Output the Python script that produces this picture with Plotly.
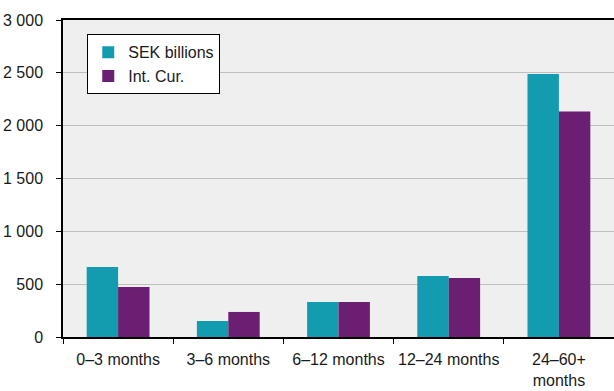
import plotly.graph_objects as go

categories = ["0–3 months", "3–6 months", "6–12 months", "12–24 months", "24–60+<br>months"]
sek_billions = [663, 151, 331, 578, 2490]
int_cur = [473, 237, 331, 559, 2134]
y_tickvals = [0, 500, 1000, 1500, 2000, 2500, 3000]
y_ticktext = ["0", "500", "1 000", "1 500", "2 000", "2 500", "3 000"]

FONT = "Liberation Sans, Arial, sans-serif"

fig = go.Figure()
fig.add_trace(go.Bar(name="SEK billions", x=categories, y=sek_billions,
                     marker=dict(color="#139BB0", line=dict(width=0))))
fig.add_trace(go.Bar(name="Int. Cur.", x=categories, y=int_cur,
                     marker=dict(color="#6B1F72", line=dict(width=0))))

fig.update_layout(
    width=614, height=391,
    margin=dict(l=63, r=0, t=20, b=54),
    paper_bgcolor="white",
    plot_bgcolor="#efefef",
    barmode="group",
    bargap=0.43,
    bargroupgap=0,
    font=dict(family=FONT, size=16, color="#1a1a1a"),
    legend=dict(
        x=0.044, y=0.955, xanchor="left", yanchor="top",
        bgcolor="white", bordercolor="black", borderwidth=1,
        font=dict(family=FONT, size=16, color="#1a1a1a"),
        tracegroupgap=0, itemwidth=30,
    ),
    showlegend=True,
)
fig.update_xaxes(
    showline=True, linecolor="black", linewidth=1.5, mirror=True,
    ticks="outside", tickson="boundaries", ticklen=5, tickcolor="black",
    showgrid=False, tickangle=0, automargin=False,
    ticklabelstandoff=7,
    tickfont=dict(family=FONT, size=16, color="#1a1a1a"),
)
fig.update_yaxes(
    range=[0, 3000],
    tickvals=y_tickvals, ticktext=y_ticktext,
    showline=True, linecolor="black", linewidth=1.5,
    ticks="outside", ticklen=5, tickcolor="black",
    showgrid=True, gridcolor="#bfbfbf", gridwidth=1,
    zeroline=False, automargin=False,
    ticklabelstandoff=10,
    tickfont=dict(family=FONT, size=16, color="#1a1a1a"),
)

fig.write_html("out.html", config={"displayModeBar": False},
               post_script="document.body.style.margin='0';document.body.style.overflow='hidden';")
